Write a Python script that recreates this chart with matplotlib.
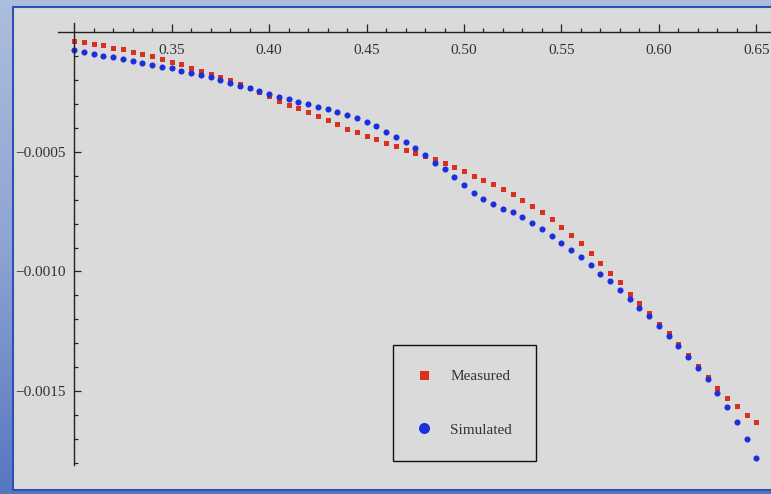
import matplotlib
matplotlib.use("Agg")
import matplotlib.pyplot as plt
import numpy as np
from matplotlib.colors import LinearSegmentedColormap
from matplotlib.patches import Rectangle

plt.rcParams['font.family'] = ['Liberation Serif', 'DejaVu Serif']

# data
x_vals = [0.300, 0.305, 0.310, 0.315, 0.320, 0.325, 0.330, 0.335, 0.340, 0.345,
          0.350, 0.355, 0.360, 0.365, 0.370, 0.375, 0.380, 0.385, 0.390, 0.395,
          0.400, 0.405, 0.410, 0.415, 0.420, 0.425, 0.430, 0.435, 0.440, 0.445,
          0.450, 0.455, 0.460, 0.465, 0.470, 0.475, 0.480, 0.485, 0.490, 0.495,
          0.500, 0.505, 0.510, 0.515, 0.520, 0.525, 0.530, 0.535, 0.540, 0.545,
          0.550, 0.555, 0.560, 0.565, 0.570, 0.575, 0.580, 0.585, 0.590, 0.595,
          0.600, 0.605, 0.610, 0.615, 0.620, 0.625, 0.630, 0.635, 0.640, 0.645,
          0.650]

measured = [-0.0000343, -0.0000410, -0.0000469, -0.0000523, -0.0000636, -0.0000703, -0.0000803, -0.0000900, -0.0000983, -0.0001121,
            -0.0001222, -0.0001331, -0.0001473, -0.0001598, -0.0001736, -0.0001874, -0.0002008, -0.0002155, -0.0002322, -0.0002490,
            -0.0002678, -0.0002866, -0.0003021, -0.0003172, -0.0003339, -0.0003494, -0.0003661, -0.0003841, -0.0004025, -0.0004176,
            -0.0004331, -0.0004469, -0.0004623, -0.0004762, -0.0004904, -0.0005054, -0.0005167, -0.0005305, -0.0005473, -0.0005640,
            -0.0005795, -0.0005992, -0.0006159, -0.0006351, -0.0006561, -0.0006770, -0.0007021, -0.0007259, -0.0007523, -0.0007803,
            -0.0008126, -0.0008473, -0.0008820, -0.0009213, -0.0009632, -0.0010050, -0.0010452, -0.0010929, -0.0011331, -0.0011736,
            -0.0012176, -0.0012594, -0.0013033, -0.0013494, -0.0013954, -0.0014435, -0.0014874, -0.0015280, -0.0015628, -0.0015992,
            -0.0016310]

simulated = [-0.0000732, -0.0000828, -0.0000912, -0.0000983, -0.0001038, -0.0001121, -0.0001205, -0.0001276, -0.0001347, -0.0001431,
             -0.0001498, -0.0001598, -0.0001695, -0.0001778, -0.0001874, -0.0001987, -0.0002100, -0.0002238, -0.0002335, -0.0002435,
             -0.0002573, -0.0002686, -0.0002782, -0.0002895, -0.0003004, -0.0003105, -0.0003201, -0.0003339, -0.0003452, -0.0003590,
             -0.0003757, -0.0003912, -0.0004151, -0.0004360, -0.0004594, -0.0004845, -0.0005126, -0.0005448, -0.0005724, -0.0006059,
             -0.0006381, -0.0006703, -0.0006967, -0.0007188, -0.0007385, -0.0007510, -0.0007720, -0.0007958, -0.0008234, -0.0008502,
             -0.0008820, -0.0009113, -0.0009406, -0.0009728, -0.0010092, -0.0010410, -0.0010774, -0.0011163, -0.0011515, -0.0011849,
             -0.0012280, -0.0012699, -0.0013117, -0.0013565, -0.0014050, -0.0014510, -0.0015071, -0.0015657, -0.0016310, -0.0017021,
             -0.0017791]

xticks = [0.35, 0.40, 0.45, 0.50, 0.55, 0.60, 0.65]
xtick_labels = ['0.35', '0.40', '0.45', '0.50', '0.55', '0.60', '0.65']
yticks = [-0.0005, -0.0010, -0.0015]
ytick_labels = ['\u22120.0005', '\u22120.0010', '\u22120.0015']

W, H = 771, 494
fig = plt.figure(figsize=(W / 100, H / 100), dpi=100)

# blue gradient background + gray panel
bg = fig.add_axes([0, 0, 1, 1])
cmap = LinearSegmentedColormap.from_list('bgblue', ['#adbddd', '#8ea4d2', '#5676c0'])
grad = np.linspace(0, 1, 256).reshape(-1, 1)
bg.imshow(grad, aspect='auto', cmap=cmap, extent=[0, W, H, 0])
bg.add_patch(Rectangle((13, 7), W, 483, facecolor='#dadada', edgecolor='#2d52b4', lw=1.5))
bg.set_xlim(0, W)
bg.set_ylim(H, 0)
bg.axis('off')

# main axes (Mathematica style: axes cross at (0.3, 0))
ax = fig.add_axes([58 / W, 1 - 465 / H, (W - 58) / W, (465 - 23) / H])
ax.set_facecolor('none')

ax.plot(x_vals, measured, linestyle='none', marker='s', markersize=3.6,
        color='#dc2f1e', markeredgewidth=0, label='Measured')
ax.plot(x_vals, simulated, linestyle='none', marker='o', markersize=4.4,
        color='#1b2fdc', markeredgewidth=0, label='Simulated')

ax.set_xlim(0.29179, 0.65744)
ax.set_ylim(-0.0018096, 0.0000397)

for s in ['top', 'right']:
    ax.spines[s].set_visible(False)
ax.spines['bottom'].set_position(('data', 0))
ax.spines['left'].set_position(('data', 0.3))
for s in ['bottom', 'left']:
    ax.spines[s].set_linewidth(1.0)
    ax.spines[s].set_color('#222222')

ax.set_xticks(xticks)
ax.set_xticklabels(xtick_labels)
ax.set_xticks([0.31, 0.32, 0.33, 0.34, 0.36, 0.37, 0.38, 0.39, 0.41, 0.42, 0.43, 0.44,
               0.46, 0.47, 0.48, 0.49, 0.51, 0.52, 0.53, 0.54, 0.56, 0.57, 0.58, 0.59,
               0.61, 0.62, 0.63, 0.64], minor=True)
ax.set_yticks(yticks)
ax.set_yticklabels(ytick_labels)
ax.set_yticks([-0.0001, -0.0002, -0.0003, -0.0004, -0.0006, -0.0007, -0.0008, -0.0009,
               -0.0011, -0.0012, -0.0013, -0.0014, -0.0016, -0.0017, -0.0018], minor=True)

ax.tick_params(axis='both', which='both', direction='in', color='#222222',
               width=0.9, labelsize=11, labelcolor='#333333')
ax.tick_params(axis='x', which='major', length=5.5, pad=8)
ax.tick_params(axis='x', which='minor', length=3)
ax.tick_params(axis='y', which='major', length=5, pad=6)
ax.tick_params(axis='y', which='minor', length=3)

leg = ax.legend(loc='upper left', bbox_to_anchor=(393 / W, 1 - 345 / H),
                bbox_transform=fig.transFigure, borderaxespad=0,
                fancybox=False, framealpha=1, facecolor='#dadada', edgecolor='#111111',
                fontsize=11, markerscale=1.8, handlelength=0.8, handletextpad=1.35,
                labelspacing=2.6, borderpad=1.6)
leg.get_frame().set_linewidth(1.0)
for t in leg.get_texts():
    t.set_color('#333333')

fig.savefig('out.png', dpi=100)
